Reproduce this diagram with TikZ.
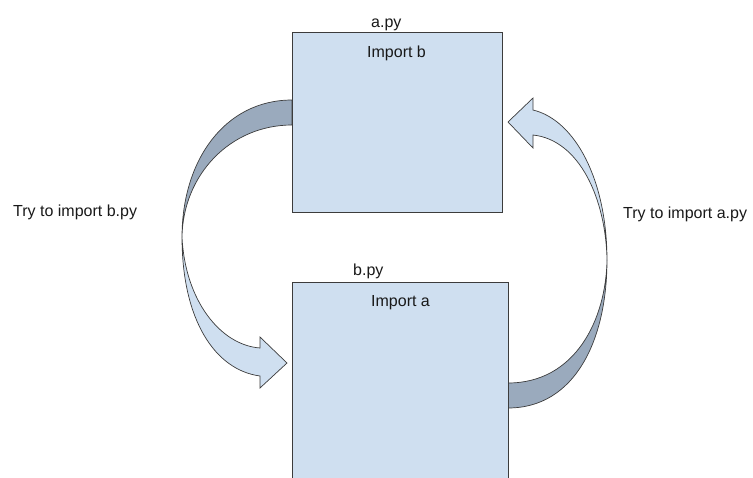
\documentclass[tikz,border=0pt]{standalone}
\usepackage{fontspec}
\setmainfont{Liberation Sans}
\definecolor{boxfill}{RGB}{207,223,240}
\definecolor{backfill}{RGB}{154,170,189}
\definecolor{edge}{RGB}{60,60,60}
\tikzset{
  module/.style={draw=edge, fill=boxfill, line width=0.8pt},
  arrowfront/.style={draw=edge, fill=boxfill, line width=0.7pt, line join=miter},
  arrowback/.style={draw=edge, fill=backfill, line width=0.7pt},
  label/.style={font=\fontsize{16}{18}\selectfont, text=black!90, inner sep=0pt, anchor=base west},
}
\begin{document}
\begin{tikzpicture}[x=1pt, y=-1pt]
  \useasboundingbox (0,0) rectangle (753,477);
  \clip (0,0) rectangle (753,477);

  % curved arrow a.py -> b.py (left side)
  \draw[arrowback] (292,100) .. controls (225,100) and (182,160) .. (182,237)
        .. controls (183,175) and (230,125) .. (292,125) -- cycle;
  \draw[arrowfront] (182,237) .. controls (185,300) and (220,345) .. (260,348)
        -- (260,337) -- (287,363) -- (260,388) -- (260,376)
        .. controls (215,370) and (182,320) .. (182,237) -- cycle;

  % curved arrow b.py -> a.py (right side)
  \draw[arrowback] (508,408) .. controls (575,408) and (607,340) .. (607,260)
        .. controls (606,320) and (575,383) .. (508,383) -- cycle;
  \draw[arrowfront] (607,260) .. controls (607,180) and (575,120) .. (533,110)
        -- (533,98) -- (508,122) -- (533,148) -- (533,135)
        .. controls (580,140) and (606,200) .. (607,260) -- cycle;

  % module boxes
  \node[module, minimum width=210pt, minimum height=180pt, anchor=north west, inner sep=0pt] (a) at (292,32) {};
  \node[module, minimum width=216pt, minimum height=220pt, anchor=north west, inner sep=0pt] (b) at (292,282) {};

  % texts
  \node[label] (aname) at (371,27) {a.py};
  \node[label] (aimp) at (367,57) {Import b};
  \node[label] (bname) at (353,275) {b.py};
  \node[label] (bimp) at (371,306) {Import a};
  \node[label] (ltext) at (13,216) {Try to import b.py};
  \node[label] (rtext) at (623,218) {Try to import a.py};
\end{tikzpicture}
\end{document}
